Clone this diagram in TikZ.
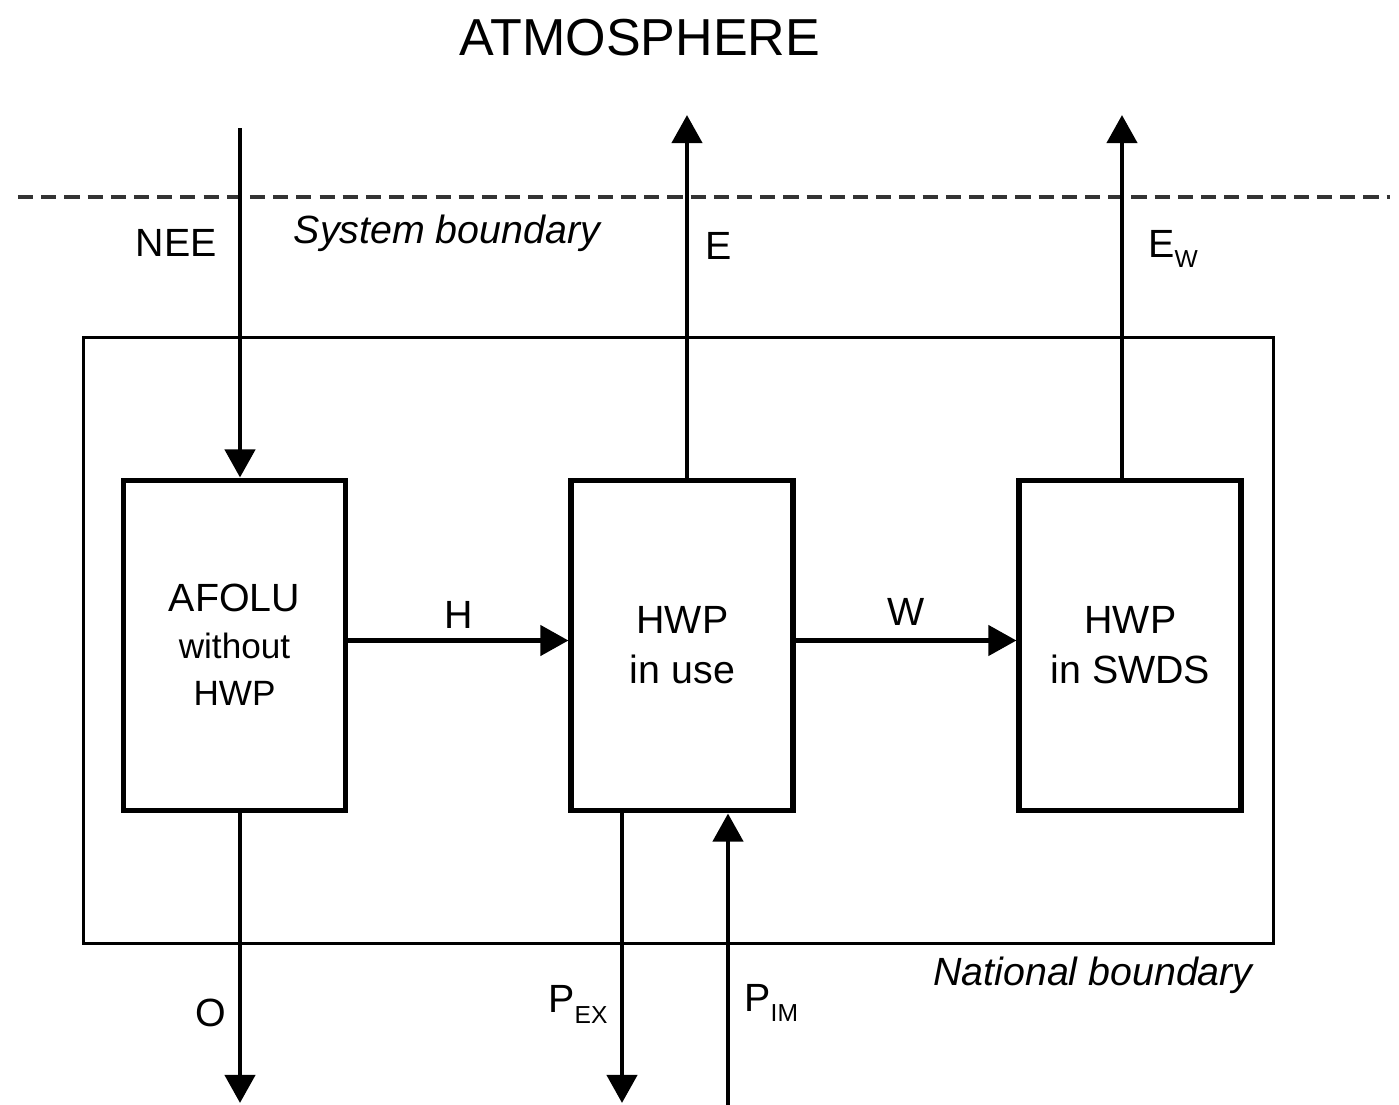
\documentclass[tikz,border=0pt]{standalone}
\usepackage{fontspec}
\setmainfont{Liberation Sans}
\usetikzlibrary{arrows.meta,positioning}
\tikzset{
  poolbox/.style={draw,line width=1.7pt,minimum width=2.22cm,minimum height=3.30cm,
    align=center,inner sep=0pt,font=\fontsize{11.2}{14.2}\selectfont},
  flowarrow/.style={-{Triangle[length=8pt,width=8.5pt]},line width=1.4pt},
  flowlabel/.style={inner sep=0pt,font=\fontsize{11.2}{13}\selectfont},
  boundarylabel/.style={font=\fontsize{11.2}{13}\selectfont\itshape}
}

\begin{document}
\begin{tikzpicture}[node distance=2.2cm]
  \useasboundingbox (0,0) rectangle (13.99,-11.05);
  \node[font=\fontsize{14.8}{17}\selectfont] (atmo) at (6.40,-0.38) {ATMOSPHERE};
  % system boundary
  \coordinate (sysL) at (0.18,-1.97);
  \coordinate (sysR) at (13.90,-1.97);
  \draw[line width=1.2pt,dash pattern=on 4.3pt off 2.3pt,draw=black!80] (sysL) -- (sysR);
  \node[boundarylabel] (syslabel) at (4.47,-2.33) {System boundary};
  % national boundary
  \node[draw,line width=1.1pt,minimum width=11.90cm,minimum height=6.06cm] (nation) at (6.785,-6.405) {};
  \node[boundarylabel] (natlabel) at (10.93,-9.75) {National boundary};
  % carbon pools
  \node[poolbox,font=\fontsize{11.2}{13.4}\selectfont] (afolu) at (2.345,-6.455)
    {AFOLU\\{\fontsize{10}{13.4}\selectfont without}\\{\fontsize{10}{13.4}\selectfont HWP}\\[-0.45cm]};
  \node[poolbox,right=of afolu] (inuse) {HWP\\in use};
  \node[poolbox,right=of inuse] (swds) {HWP\\in SWDS};
  % flows
  \coordinate (neein) at (2.40,-1.28);
  \draw[flowarrow] (neein) -- node[flowlabel,left=2.1mm,pos=0.33] {NEE} (neein |- afolu.north);
  \coordinate (eout) at (6.87,-1.15);
  \draw[flowarrow] (eout |- inuse.north) -- node[flowlabel,right=1.6mm,pos=0.64] {E} (eout);
  \coordinate (ewout) at (11.22,-1.15);
  \draw[flowarrow] (ewout |- swds.north) -- node[flowlabel,right=2.4mm,pos=0.63] {E\raisebox{-3pt}{\scriptsize W}} (ewout);
  \draw[flowarrow] ([yshift=0.5mm]afolu.east) -- node[flowlabel,above=1mm] {H} ([yshift=0.5mm]inuse.west);
  \draw[flowarrow] ([yshift=0.5mm]inuse.east) -- node[flowlabel,above=1.3mm] {W} ([yshift=0.5mm]swds.west);
  \coordinate (oout) at (2.40,-11.03);
  \draw[flowarrow] (oout |- afolu.south) -- node[flowlabel,left=1.1mm,pos=0.69] {O} (oout);
  \coordinate (pexout) at (6.22,-11.03);
  \draw[flowarrow] (pexout |- inuse.south) -- node[flowlabel,left=1.2mm,pos=0.66] {P\raisebox{-3pt}{\scriptsize EX}} (pexout);
  \coordinate (pimin) at (7.28,-11.05);
  \draw[flowarrow] (pimin) -- node[flowlabel,right=1.4mm,pos=0.35] {P\raisebox{-3pt}{\scriptsize IM}} (pimin |- inuse.south);
\end{tikzpicture}
\end{document}
